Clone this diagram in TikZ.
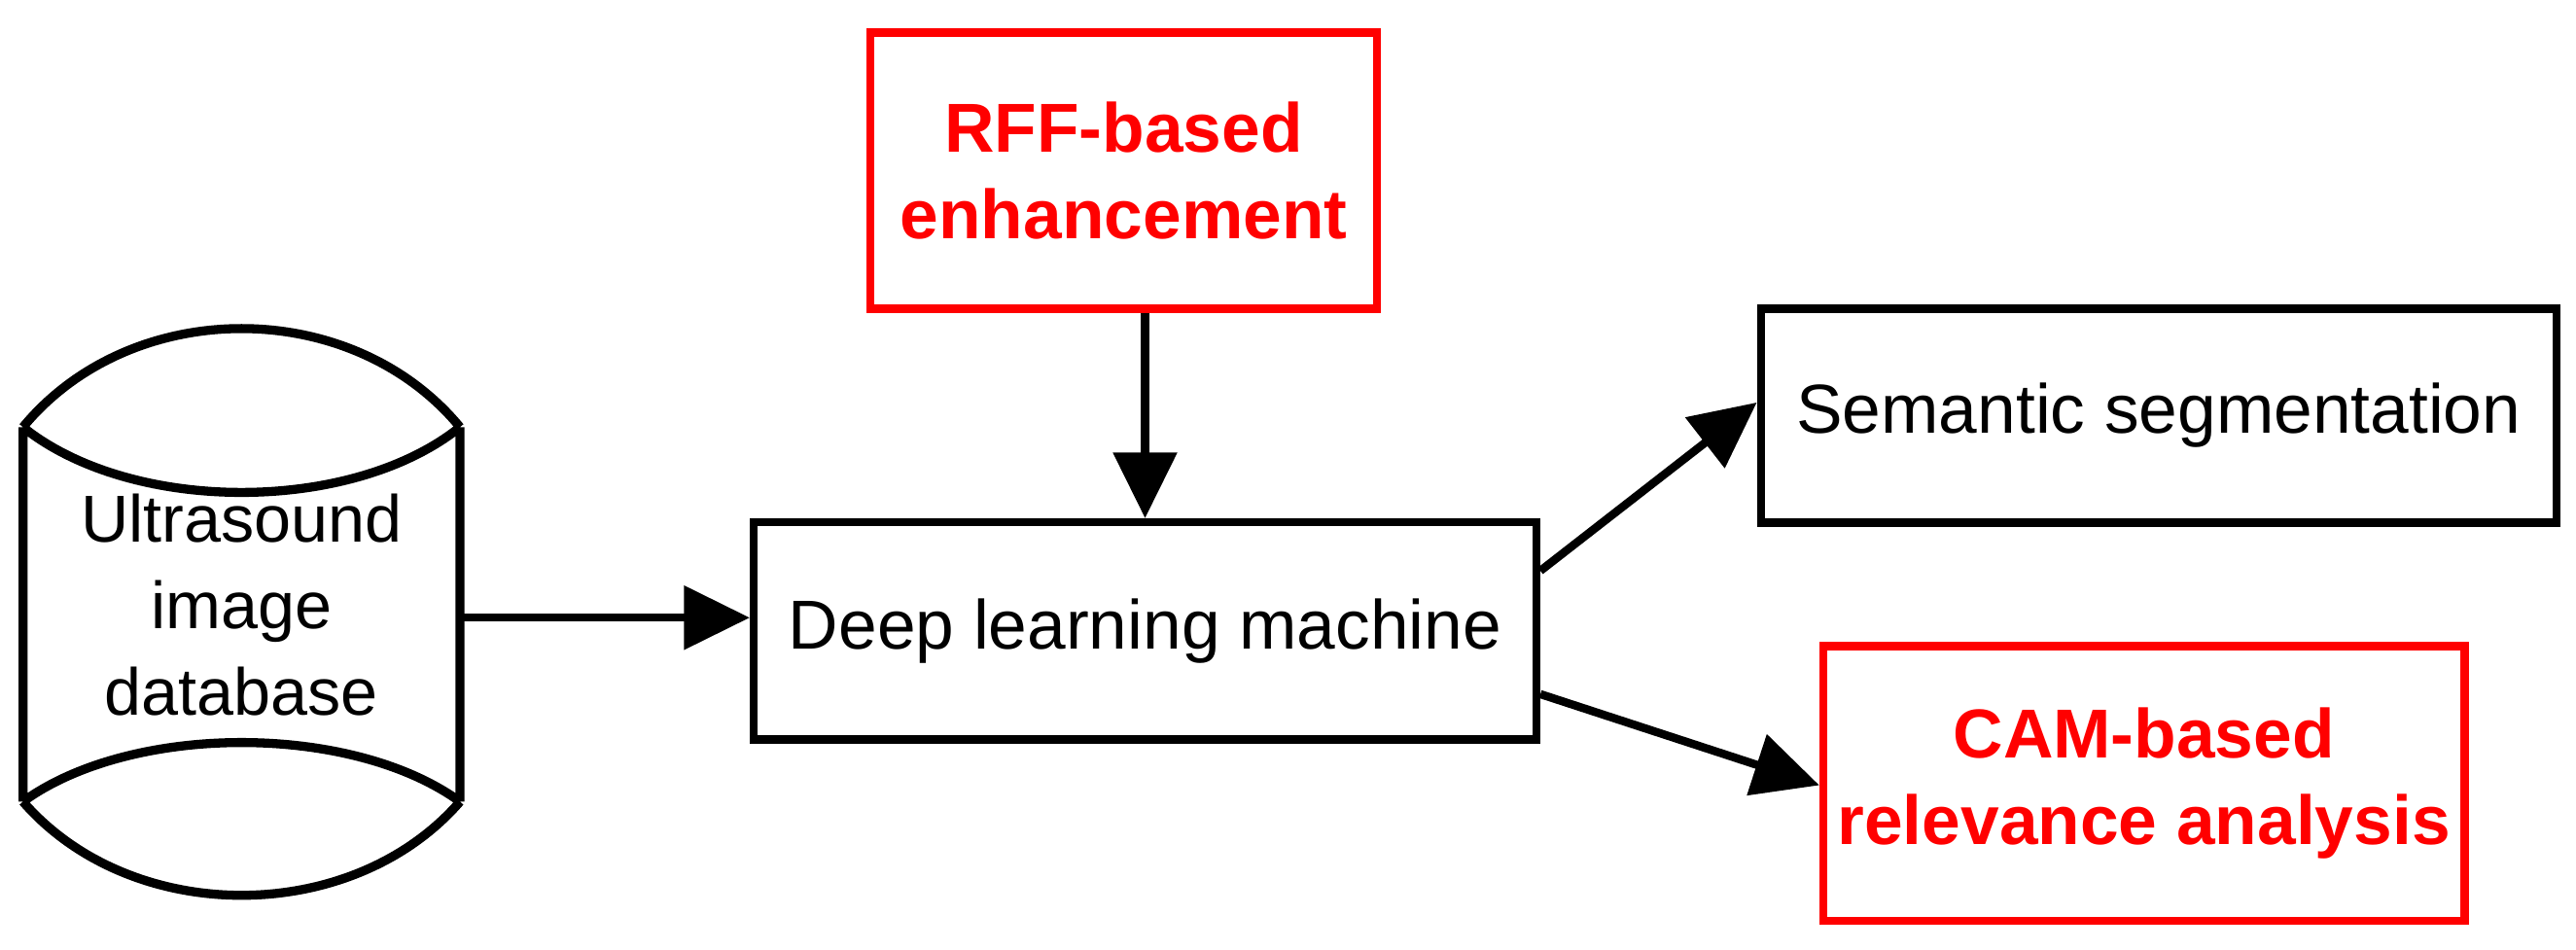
\documentclass[tikz,border=0pt]{standalone}
\usepackage{fontspec}
\setmainfont{Liberation Sans}
\usetikzlibrary{arrows.meta,calc}
\begin{document}
\begin{tikzpicture}[x=0.01cm,y=-0.01cm,
  box/.style={draw,line width=0.05cm,minimum width=#1,inner sep=0pt,align=center,font=\fontsize{12pt}{15pt}\selectfont},
  redbox/.style={box=#1,draw=red,text=red,font=\fontsize{12pt}{15pt}\selectfont\bfseries},
  arr/.style={line width=0.05cm,-{Triangle[length=0.4cm,width=0.38cm]}}]
\useasboundingbox (0,0) rectangle (1568,578);
\node[redbox=3.08cm,minimum height=1.68cm] (rff) at (684,104) {RFF-based\\enhancement};
\node[box=4.84cm,minimum height=1.3cm] (sem) at (1314,253) {Semantic segmentation};
\node[box=4.76cm,minimum height=1.32cm] (deep) at (697,384) {Deep learning machine};
\node[redbox=3.9cm,minimum height=1.67cm] (cam) at (1305,477) {CAM-based\\relevance analysis};
\node[align=center,font=\fontsize{11.5pt}{15pt}\selectfont,minimum width=2.66cm,minimum height=2.28cm,inner sep=0pt] (db) at (147,368) {Ultrasound\\image\\database};
\coordinate (tl) at (14,260); \coordinate (tr) at (280,260);
\coordinate (bl) at (14,488); \coordinate (br) at (280,488);
\draw[line width=0.055cm,line join=round]
  (tl) .. controls (80,180) and (214,180) .. (tr)
  (tl) .. controls (80,313) and (214,313) .. (tr)
  (tl) -- (bl)
  (tr) -- (br)
  (bl) .. controls (80,440) and (214,440) .. (br)
  (bl) .. controls (80,564) and (214,564) .. (br);
\draw[arr] (tr |- deep.west) ++(0,-8) coordinate (s) -- (s -| deep.west);
\draw[arr] (deep.north |- rff.south) -- (deep.north);
\draw[arr] ($(deep.north east)+(0,32)$) -- ($(sem.west)+(0,-8)$);
\draw[arr] ($(deep.south east)+(0,-30)$) -- ($(cam.west)+(0,1)$);
\end{tikzpicture}
\end{document}
